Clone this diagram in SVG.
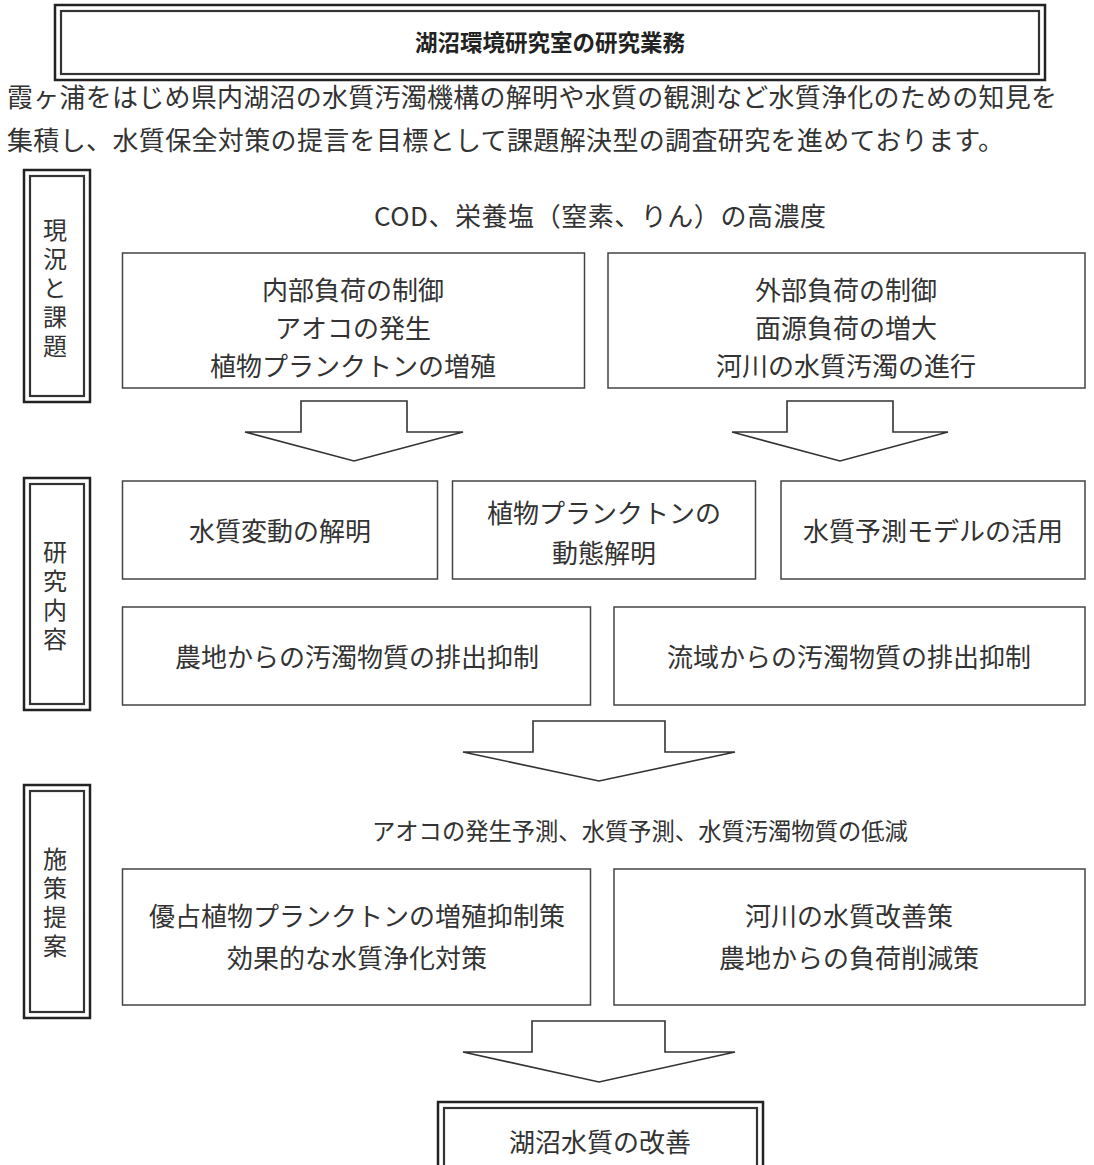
<svg xmlns="http://www.w3.org/2000/svg" width="1094" height="1165" viewBox="0 0 1094 1165">
<style>
text{font-family:"Noto Sans CJK JP","Noto Sans",sans-serif;fill:#333;font-size:26px}
.c{text-anchor:middle}
.box{fill:#fff;stroke:#444;stroke-width:1.5}
.dbo{fill:#fff;stroke:#222;stroke-width:2.5}
.dbi{fill:none;stroke:#333;stroke-width:2.2}
.arr{fill:#fff;stroke:#333;stroke-width:1.6;stroke-linejoin:miter}
.lab{font-size:24px;writing-mode:vertical-rl;text-anchor:middle;letter-spacing:5px}
.ttl{font-size:22.5px;font-weight:bold;fill:#222}
.sub{font-size:23.3px}
</style>
<g id="title">
<rect class="dbo" x="55" y="5" width="990" height="75"/>
<rect class="dbi" x="61" y="11" width="978" height="63"/>
<text class="c ttl" x="550" y="51">湖沼環境研究室の研究業務</text>
</g>
<g id="intro">
<text x="7" y="107" textLength="1050" lengthAdjust="spacing">霞ヶ浦をはじめ県内湖沼の水質汚濁機構の解明や水質の観測など水質浄化のための知見を</text>
<text x="7" y="150" textLength="997" lengthAdjust="spacing">集積し、水質保全対策の提言を目標として課題解決型の調査研究を進めております。</text>
</g>
<g id="label1">
<rect class="dbo" x="24" y="170" width="66" height="232"/>
<rect class="dbi" x="30" y="176" width="54" height="220"/>
<text class="lab" x="55" y="290">現況と課題</text>
</g>
<g id="label2">
<rect class="dbo" x="24" y="478" width="66" height="232"/>
<rect class="dbi" x="30" y="484" width="54" height="220"/>
<text class="lab" x="55" y="598">研究内容</text>
</g>
<g id="label3">
<rect class="dbo" x="24" y="785" width="66" height="233"/>
<rect class="dbi" x="30" y="791" width="54" height="221"/>
<text class="lab" x="55" y="905">施策提案</text>
</g>
<g id="cod"><text x="374" y="226" textLength="452" lengthAdjust="spacing">COD、栄養塩（窒素、りん）の高濃度</text></g>
<g id="n-internal">
<rect class="box" x="122.5" y="253" width="462" height="135"/>
<text class="c" x="353" y="300">内部負荷の制御</text>
<text class="c" x="353" y="338">アオコの発生</text>
<text class="c" x="353" y="376">植物プランクトンの増殖</text>
</g>
<g id="n-external">
<rect class="box" x="608" y="253" width="477" height="135"/>
<text class="c" x="846" y="300">外部負荷の制御</text>
<text class="c" x="846" y="338">面源負荷の増大</text>
<text class="c" x="846" y="376">河川の水質汚濁の進行</text>
</g>
<g id="n-r1">
<rect class="box" x="122.5" y="481" width="315" height="98"/>
<text class="c" x="280" y="541">水質変動の解明</text>
</g>
<g id="n-r2">
<rect class="box" x="452.5" y="481" width="303" height="98"/>
<text class="c" x="604" y="523">植物プランクトンの</text>
<text class="c" x="604" y="563">動態解明</text>
</g>
<g id="n-r3">
<rect class="box" x="781" y="481" width="304" height="98"/>
<text class="c" x="933" y="541">水質予測モデルの活用</text>
</g>
<g id="n-r4">
<rect class="box" x="122.5" y="607" width="468" height="98"/>
<text class="c" x="357" y="667">農地からの汚濁物質の排出抑制</text>
</g>
<g id="n-r5">
<rect class="box" x="614" y="607" width="471" height="98"/>
<text class="c" x="849" y="667">流域からの汚濁物質の排出抑制</text>
</g>
<g id="aoko"><text class="sub" x="372" y="840">アオコの発生予測、水質予測、水質汚濁物質の低減</text></g>
<g id="n-p1">
<rect class="box" x="122.5" y="869" width="468" height="136"/>
<text class="c" x="357" y="926">優占植物プランクトンの増殖抑制策</text>
<text class="c" x="357" y="968">効果的な水質浄化対策</text>
</g>
<g id="n-p2">
<rect class="box" x="614" y="869" width="471" height="136"/>
<text class="c" x="849" y="926">河川の水質改善策</text>
<text class="c" x="849" y="968">農地からの負荷削減策</text>
</g>
<g id="result">
<rect class="dbo" x="438" y="1102" width="325" height="70"/>
<rect class="dbi" x="444" y="1108" width="313" height="70"/>
<text class="c" x="600" y="1152">湖沼水質の改善</text>
</g>
<g id="connectors">
<polygon class="arr" points="301,401 407,401 407,432 463,432 354,461 245,432 301,432"/>
<polygon class="arr" points="787,401 893,401 893,432 948,432 840,461 732,432 787,432"/>
<polygon class="arr" points="533,721 665,721 665,752 735,752 599,781 463,752 533,752"/>
<polygon class="arr" points="532,1021 665,1021 665,1052 735,1052 599,1082 463,1052 532,1052"/>
</g>
</svg>
